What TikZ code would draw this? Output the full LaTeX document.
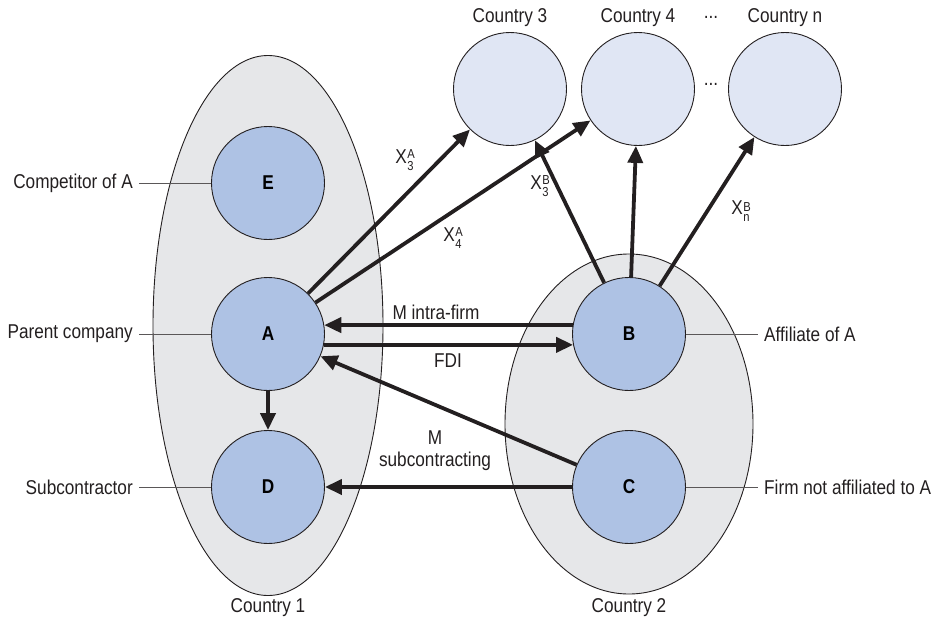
\documentclass[tikz,border=0pt]{standalone}
\usepackage{fontspec}
\setmainfont{Liberation Sans}[FakeStretch=0.86]
\usetikzlibrary{arrows.meta}

\definecolor{regionfill}{HTML}{E6E7E9}
\definecolor{firmfill}{HTML}{AEC2E4}
\definecolor{marketfill}{HTML}{E0E6F4}
\definecolor{ink}{HTML}{231F20}

% X with a stacked superscript (#2) over a subscript (#1)
\newcommand\flowlab[2]{X\kern0.5pt\raisebox{-7pt}{\fontsize{13}{14.5}\selectfont\shortstack[l]{#2\\#1}}}

\tikzset{
  region/.style={draw=ink, line width=0.9pt, fill=regionfill},
  firm/.style={circle, draw=ink, line width=0.9pt, fill=firmfill,
    minimum size=113pt, inner sep=0pt, font=\fontsize{20}{22}\selectfont\bfseries},
  market/.style={circle, draw=ink, line width=0.9pt, fill=marketfill,
    minimum size=113pt, inner sep=0pt},
  flow/.style={draw=ink, line width=3.8pt, -{Triangle[length=17pt,width=15pt]}},
  lbl/.style={text=ink, font=\fontsize{20}{22}\selectfont, inner sep=2pt},
  leader/.style={draw=ink!75, line width=0.8pt},
}

\begin{document}
\begin{tikzpicture}[x=1pt, y=-1pt]
  \useasboundingbox (0,0) rectangle (937,624);

  % country regions
  \draw[region] (268,325.5) ellipse [x radius=115, y radius=270];
  \draw[region] (629,424) ellipse [x radius=124, y radius=170];

  % firms
  \node[firm] (E) at (268,183) {E};
  \node[firm] (A) at (268,334) {A};
  \node[firm] (D) at (268,487) {D};
  \node[firm] (B) at (629,334) {B};
  \node[firm] (C) at (629,487) {C};

  % export markets
  \node[market] (M3) at (510,89) {};
  \node[market] (M4) at (638,89) {};
  \node[market] (Mn) at (785,89) {};
  \node[lbl] at (711,84) {...};

  \node[lbl] (t3) at (510,18) {Country 3};
  \node[lbl] (t4) at (638,18) {Country 4};
  \node[lbl] at (711,17) {...};
  \node[lbl] (tn) at (785,18) {Country n};
  \node[lbl] (t1) at (268,608) {Country 1};
  \node[lbl] (t2) at (629,608) {Country 2};

  % role labels with leader lines
  \node[lbl, anchor=east] (lE) at (135,183) {Competitor of A};
  \node[lbl, anchor=east] (lA) at (135,334) {Parent company};
  \node[lbl, anchor=east] (lD) at (135,487) {Subcontractor};
  \node[lbl, anchor=west] (lB) at (762,334) {Affiliate of A};
  \node[lbl, anchor=west] (lC) at (762,487) {Firm not affiliated to A};
  \draw[leader] (lE.east) ++(4,0) -- (E.west);
  \draw[leader] (lA.east) ++(4,0) -- (A.west);
  \draw[leader] (lD.east) ++(4,0) -- (D.west);
  \draw[leader] (B.east) -- ([xshift=-4pt]lB.west);
  \draw[leader] (C.east) -- ([xshift=-4pt]lC.west);

  % flows
  \draw[flow] (A) -- (M3);
  \draw[flow] (A) -- (M4);
  \draw[flow] (B) -- (M3);
  \draw[flow] (B) -- (M4);
  \draw[flow] (B) -- (Mn);
  \draw[flow] (B.171) -- (A.9);
  \draw[flow] (A.-11) -- (B.191);
  \draw[flow] (C) -- (A);
  \draw[flow] (C) -- (D);
  \draw[flow] (A) -- (D);

  % flow labels
  \node[lbl] (xa3) at (405,160) {\flowlab{3}{A}};
  \node[lbl] (xa4) at (453,238) {\flowlab{4}{A}};
  \node[lbl] (xb3) at (540,186) {\flowlab{3}{B}};
  \node[lbl] (xbn) at (741,211) {\flowlab{n}{B}};
  \node[lbl] (mif) at (436,312) {M intra-firm};
  \node[lbl] (fdi) at (448,361) {FDI};
  \node[lbl, align=center] (msub) at (435,451) {M\\subcontracting};
\end{tikzpicture}
\end{document}
